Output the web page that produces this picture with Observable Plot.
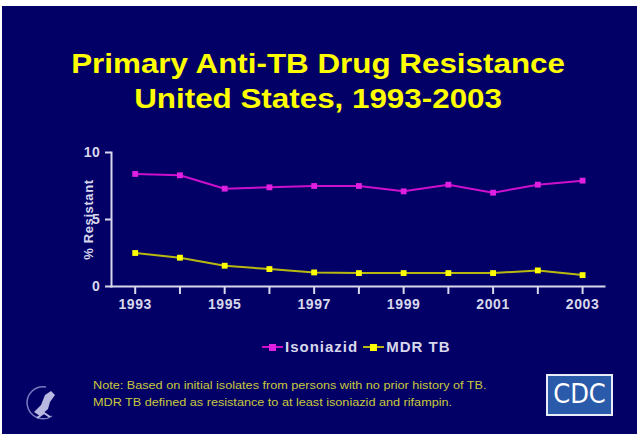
<!DOCTYPE html>
<html><head><meta charset="utf-8">
<script src="https://cdn.jsdelivr.net/npm/d3@7"></script>
<script src="https://cdn.jsdelivr.net/npm/@observablehq/plot@0.6"></script>
<style>
html,body{margin:0;padding:0;background:#fff;width:637px;height:434px;overflow:hidden;font-family:"Liberation Sans",Arial,sans-serif}
#bg{position:absolute;left:2px;top:6px;width:635px;height:428px;background:#020066}
.t{position:absolute;left:0;width:637px;text-align:center;color:#ffff00;font-weight:bold;font-size:28px;line-height:32px;transform:scaleX(1.12);transform-origin:322px 0}
#chart{position:absolute;left:0;top:140px}
#legend{position:absolute;top:338px;left:262px;color:#d8d8ec;font-weight:bold;font-size:15px;letter-spacing:1px;display:flex;align-items:center;gap:2px}
#legend span{margin-right:3px}
#note{position:absolute;left:93px;top:377px;color:#c8c83c;font-size:11px;line-height:17px;transform:scaleX(1.15);transform-origin:0 0;white-space:nowrap}
#cdc{position:absolute;left:546px;top:374px;width:63px;height:38px;border:2px solid #e8ecf8;background:#2a5aaa;color:#fff;font-size:27px;text-align:center;line-height:36px;font-family:"DejaVu Sans Condensed","Liberation Sans Narrow",sans-serif}
#hhs{position:absolute;left:20px;top:384px}
</style></head><body>
<div id="bg"></div>
<div class="t" style="top:48px">Primary Anti-TB Drug Resistance</div>
<div class="t" style="top:83px">United States, 1993-2003</div>
<div id="chart"></div>
<div id="legend"></div>
<div id="note">Note: Based on initial isolates from persons with no prior history of TB.<br>MDR TB defined as resistance to at least isoniazid and rifampin.</div>
<div id="cdc">CDC</div>
<svg id="hhs" width="45" height="40" viewBox="0 0 45 40" style="top:382px">
<path d="M26 5 A16 16 0 1 0 32 34" fill="none" stroke="#7a7ac0" stroke-width="1.5"/>
<path d="M14 30 L21 23 L25 13 L31 9 L35 13 L30 20 L28 27 L20 34 Z" fill="#b8b8e0"/>
<path d="M17 36 L24 31 L30 35" fill="none" stroke="#b8b8e0" stroke-width="2"/>
</svg>
<script>
const years = [1993,1994,1995,1996,1997,1998,1999,2000,2001,2002,2003];
const isoniazid = [8.4,8.3,7.3,7.4,7.5,7.5,7.1,7.6,7.0,7.6,7.9];
const mdrTB = [2.5,2.15,1.55,1.3,1.05,1.0,1.0,1.0,1.0,1.2,0.85];
const seriesNames = ["Isoniazid","MDR TB"];
const seriesColors = ["#e020e0","#ffff00"];
const lineColors = ["#cc10cc","#b8b810"];
const yTicks = [0,5,10];
const yLabel = "% Resistant";

const data = [];
years.forEach((y,i)=>{
  data.push({year:y, value:isoniazid[i], series:seriesNames[0]});
  data.push({year:y, value:mdrTB[i], series:seriesNames[1]});
});

const axisColor = "#d8d8ec";
const chart = Plot.plot({
  width: 637, height: 175,
  marginLeft: 111, marginRight: 33, marginTop: 12, marginBottom: 29,
  style: {background:"transparent", color: axisColor, fontFamily:"'Liberation Sans',Arial,sans-serif", fontWeight:"bold", fontSize:"14px", letterSpacing:"0.6px"},
  x: {domain:[1992.47, 2003.49]},
  y: {domain:[0,10]},
  color: {domain: seriesNames, range: lineColors},
  marks: [
    Plot.frame({anchor:"left", stroke: axisColor, strokeWidth:2}),
    Plot.frame({anchor:"bottom", stroke: axisColor, strokeWidth:2}),
    Plot.axisY({ticks: yTicks, tickSize:6, tickPadding:5, label:null, stroke:axisColor, strokeWidth:2, fontSize:14}),
    Plot.axisX({ticks: years, tickSize:8, tickPadding:5, label:null, tickFormat: d => d % 2 ? String(d) : "", stroke:axisColor, strokeWidth:2, fontSize:14}),
    Plot.text([yLabel], {frameAnchor:"left", textAnchor:"middle", rotate:-90, dx:-23, fill:axisColor, fontSize:13, fontWeight:"bold"}),
    Plot.line(data, {x:"year", y:"value", stroke:"series", strokeWidth:2}),
    Plot.dot(data, {x:"year", y:"value", symbol:"square", r:3.3, fill: d => seriesColors[seriesNames.indexOf(d.series)]})
  ]
});
document.getElementById("chart").appendChild(chart);

const leg = document.getElementById("legend");
seriesNames.forEach((n,i)=>{
  leg.insertAdjacentHTML("beforeend",
    `<svg width="21" height="10"><line x1="0" x2="21" y1="5" y2="5" stroke="${lineColors[i]}" stroke-width="2"/><rect x="7" y="2" width="7" height="7" fill="${seriesColors[i]}"/></svg><span>${n}</span>`);
});
</script>
</body></html>
